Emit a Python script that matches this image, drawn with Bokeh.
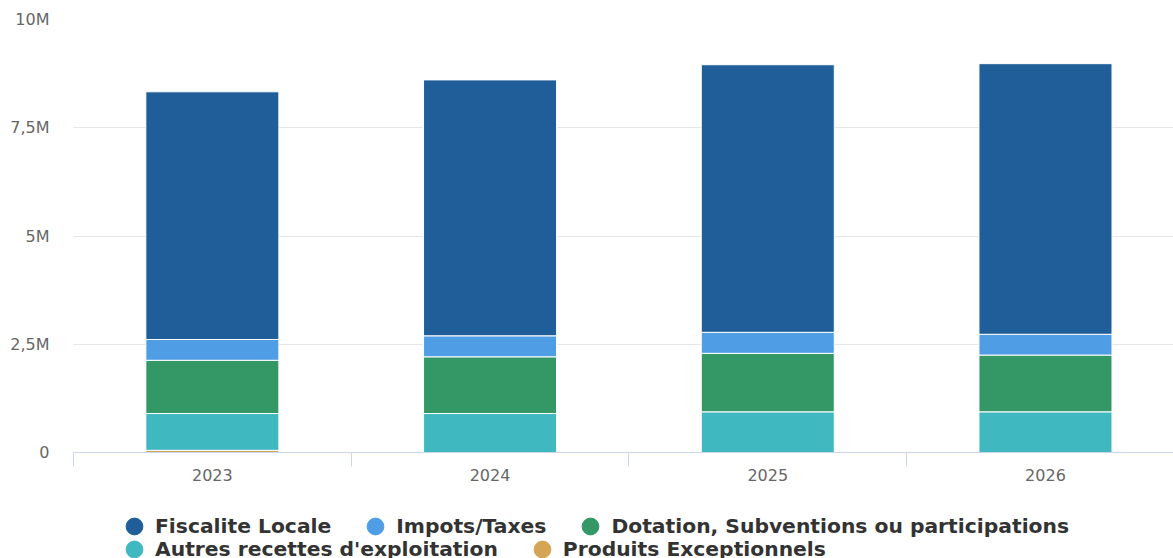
import numpy as np
from bokeh.plotting import figure
from bokeh.layouts import column
from bokeh.models import ColumnDataSource, Range1d, FixedTicker, Legend, LegendItem
from bokeh.embed import file_html
from bokeh.resources import INLINE

# Recettes par année (en euros)
years = ["2023", "2024", "2025", "2026"]
fiscalite_locale = [5.72e6, 5.91e6, 6.18e6, 6.25e6]
impots_taxes = [0.48e6, 0.485e6, 0.485e6, 0.48e6]
dotations = [1.23e6, 1.31e6, 1.35e6, 1.31e6]
autres_recettes = [0.85e6, 0.90e6, 0.94e6, 0.94e6]
produits_exceptionnels = [0.05e6, 0.0, 0.0, 0.0]

series_labels = [
    "Fiscalite Locale",
    "Impots/Taxes",
    "Dotation, Subventions ou participations",
    "Autres recettes d'exploitation",
    "Produits Exceptionnels",
]
series_colors = ["#1f5e99", "#4f9ee5", "#339866", "#40b8c0", "#d5a556"]

y_ticks = [0, 2500000, 5000000, 7500000, 10000000]
y_tick_labels = ["0", "2,5M", "5M", "7,5M", "10M"]

# categories sit at half-integer positions, boundaries on integers
x_centers = np.arange(len(years)) + 0.5
x_bounds = np.arange(len(years) + 1).astype(float)

keys = ["fiscalite", "impots", "dotations", "autres", "produits"]
source = ColumnDataSource(dict(
    x=x_centers,
    fiscalite=fiscalite_locale,
    impots=impots_taxes,
    dotations=dotations,
    autres=autres_recettes,
    produits=produits_exceptionnels,
))

p = figure(
    width=1173, height=505,
    output_backend="svg", toolbar_location=None,
    x_range=Range1d(0, 3.961), y_range=Range1d(0, 1e7),
    min_border_left=73, min_border_right=0, min_border_top=19, min_border_bottom=53,
)
p.outline_line_color = None
p.background_fill_color = "white"

# stack from the bottom: last series first
stack_keys = keys[::-1]
stack_colors = series_colors[::-1]
p.vbar_stack(
    stack_keys, x="x", width=0.479, source=source,
    fill_color=stack_colors, line_color="white", line_width=1,
)

# axes
p.xgrid.visible = False
p.ygrid.grid_line_color = "#e6e6e6"
p.ygrid.grid_line_width = 1

yax = p.yaxis[0]
yax.ticker = FixedTicker(ticks=y_ticks)
yax.major_label_overrides = {t: l for t, l in zip(y_ticks, y_tick_labels)}
yax.axis_line_color = None
yax.major_tick_line_color = None
yax.minor_tick_line_color = None
yax.major_tick_out = 0
yax.major_label_standoff = 24
yax.major_label_text_font = "DejaVu Sans"
yax.major_label_text_font_size = "16px"
yax.major_label_text_color = "#666666"

xax = p.xaxis[0]
xax.ticker = FixedTicker(ticks=list(x_centers), minor_ticks=list(x_bounds))
xax.major_label_overrides = {float(c): y for c, y in zip(x_centers, years)}
xax.axis_line_color = "#ccd6eb"
xax.major_tick_line_color = None
xax.major_tick_out = 0
xax.minor_tick_line_color = "#ccd6eb"
xax.minor_tick_in = 0
xax.minor_tick_out = 14
xax.major_label_standoff = 2
xax.major_label_text_font = "DejaVu Sans"
xax.major_label_text_font_size = "16px"
xax.major_label_text_color = "#666666"

# legend strip under the chart, with round markers
lp = figure(
    width=1173, height=53,
    output_backend="svg", toolbar_location=None,
    x_range=Range1d(0, 1), y_range=Range1d(0, 1),
    min_border_left=0, min_border_right=0, min_border_top=0, min_border_bottom=0,
)
lp.axis.visible = False
lp.grid.visible = False
lp.outline_line_color = None

markers = []
for c in series_colors:
    markers.append(lp.scatter(x=[np.nan], y=[np.nan], marker="circle", size=17,
                              fill_color=c, line_color=c))

items = [LegendItem(label=l, renderers=[r]) for l, r in zip(series_labels, markers)]


def add_legend_row(row_items, loc):
    lg = Legend(
        items=row_items, location=loc, orientation="horizontal",
        glyph_width=42, glyph_height=42, label_standoff=0, spacing=23,
        padding=0, margin=0, border_line_color=None, background_fill_alpha=0,
        label_text_font="DejaVu Sans", label_text_font_style="bold",
        label_text_font_size="20.3px", label_text_color="#333333",
        label_text_baseline="middle",
    )
    lp.add_layout(lg, "center")


add_legend_row(items[:3], (40, 11))
add_legend_row(items[3:], (40, -12))

layout = column(p, lp, spacing=0)
open("out.html", "w").write(file_html(layout, INLINE))
